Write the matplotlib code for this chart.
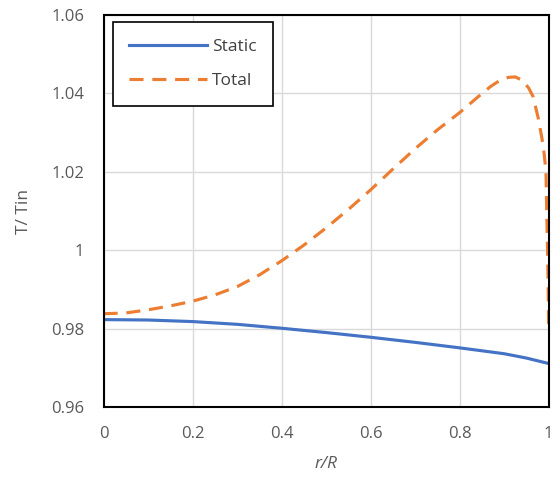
import numpy as np
import matplotlib
matplotlib.use("Agg")
import matplotlib.pyplot as plt

# data
static_r = [0.0, 0.1, 0.2, 0.3, 0.4, 0.5, 0.6, 0.7, 0.8, 0.9, 0.95, 1.0]
static_t = [0.9823, 0.9822, 0.9818, 0.9811, 0.9801, 0.9790, 0.9778, 0.9765, 0.9751, 0.9736, 0.9725, 0.9711]

total_r = [0.0, 0.05, 0.1, 0.15, 0.2, 0.25, 0.3, 0.35, 0.4, 0.45, 0.5, 0.55, 0.6, 0.65,
           0.7, 0.75, 0.8, 0.84, 0.87, 0.89, 0.91, 0.925, 0.94, 0.955, 0.965, 0.977,
           0.985, 0.99, 0.994, 0.996, 0.998, 0.999, 1.0]
total_t = [0.9838, 0.9840, 0.9848, 0.9858, 0.9870, 0.9886, 0.9907, 0.9937, 0.9973, 1.0013,
           1.0057, 1.0104, 1.0154, 1.0207, 1.0259, 1.0307, 1.0351, 1.0390, 1.0418, 1.0433,
           1.0441, 1.0442, 1.0434, 1.0414, 1.0392, 1.0335, 1.0285, 1.0245, 1.0200, 1.0080,
           0.9975, 0.9900, 0.9810]

xticks = [0, 0.2, 0.4, 0.6, 0.8, 1]
xticklabels = ["0", "0.2", "0.4", "0.6", "0.8", "1"]
yticks = [0.96, 0.98, 1.0, 1.02, 1.04, 1.06]
yticklabels = ["0.96", "0.98", "1", "1.02", "1.04", "1.06"]

plt.rcParams['font.family'] = ['Open Sans', 'DejaVu Sans']

fig = plt.figure(figsize=(5.57, 4.84), dpi=100)
ax = fig.add_axes([0.186, 0.159, 0.799, 0.810])

ax.plot(static_r, static_t, color='#4472C4', lw=2.25, label='Static')
ax.plot(total_r, total_t, color='#ED7D31', lw=2.25, linestyle=(0, (4.5, 2.8)), label='Total')

ax.set_xlim(0, 1)
ax.set_ylim(0.96, 1.06)
ax.set_xticks(xticks)
ax.set_xticklabels(xticklabels)
ax.set_yticks(yticks)
ax.set_yticklabels(yticklabels)
ax.grid(True, color='#D9D9D9', lw=1)
ax.set_axisbelow(True)
ax.tick_params(length=0, labelsize=12, labelcolor='#595959')
ax.tick_params(axis='x', pad=14)
ax.tick_params(axis='y', pad=14)

for s in ax.spines.values():
    s.set_color('black')
    s.set_linewidth(1.5)

ax.set_xlabel('r/R', fontsize=12.5, color='#595959', style='italic', labelpad=10)
ax.set_ylabel('T/ Tin', fontsize=12.5, color='#595959', labelpad=14)

leg = ax.legend(loc='upper left', bbox_to_anchor=(0.02, 0.982), borderaxespad=0,
                fontsize=12.5, handlelength=4.5, handletextpad=0.3, borderpad=0.95,
                labelspacing=1.05, fancybox=False, framealpha=1, edgecolor='black')
leg.get_frame().set_linewidth(1.2)
for t in leg.get_texts():
    t.set_color('#404040')

fig.savefig('out.png', dpi=100)
